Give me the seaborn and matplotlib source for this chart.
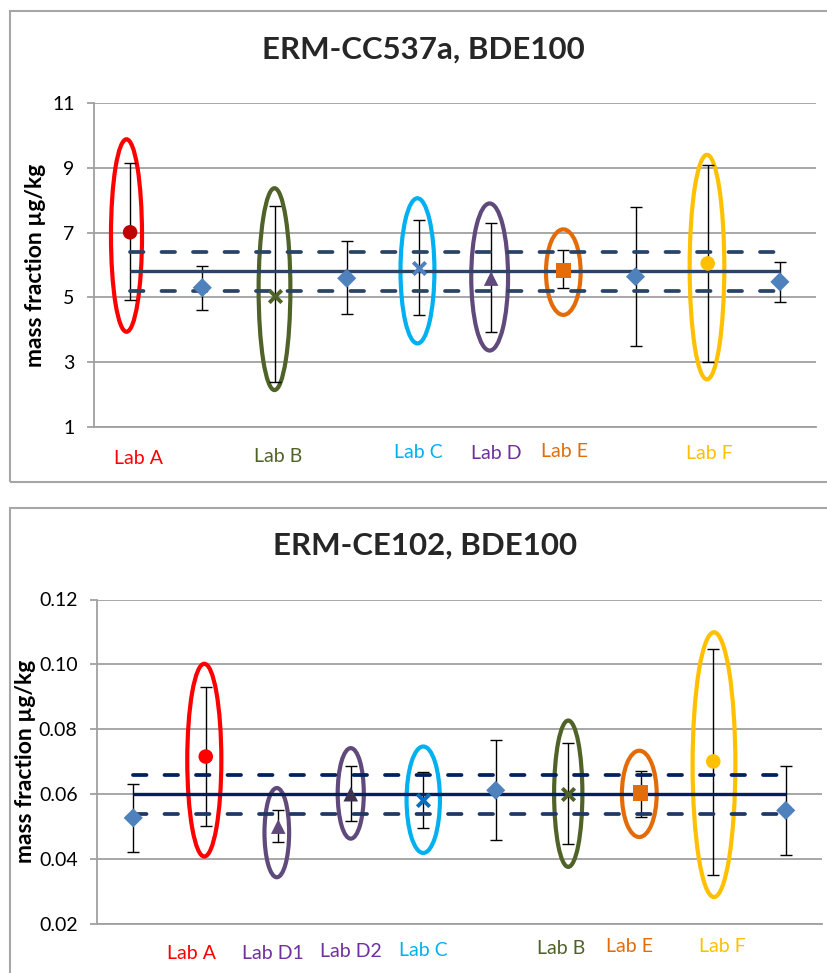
import matplotlib
matplotlib.use("Agg")
import matplotlib.pyplot as plt
from matplotlib.patches import Ellipse, Rectangle
from matplotlib.ticker import FormatStrFormatter
import numpy as np
import pandas as pd
import seaborn as sns

sns.set_theme(style="white")
plt.rcParams['font.family'] = ['Lato', 'DejaVu Sans']

# ---- top chart: ERM-CC537a ----
top_groups = ["Lab A", "ref", "Lab B", "ref", "Lab C", "Lab D", "Lab E", "ref", "Lab F", "ref"]
top_values = [7.01, 5.30, 5.05, 5.59, 5.90, 5.58, 5.82, 5.64, 6.05, 5.48]
top_upper = [9.14, 5.98, 7.82, 6.75, 7.39, 7.29, 6.46, 7.79, 9.09, 6.10]
top_lower = [4.92, 4.61, 2.40, 4.48, 4.45, 3.92, 5.28, 3.50, 3.02, 4.87]
top_ref = [5.8, 5.2, 6.4]          # certified value, lower, upper
top_yticks = [1, 3, 5, 7, 9, 11]

top_ell_labs = ["Lab A", "Lab B", "Lab C", "Lab D", "Lab E", "Lab F"]
top_ell_pos = [-0.05, 2.0, 3.98, 4.98, 6.0, 7.99]
top_ell_low = [3.94, 2.14, 3.58, 3.36, 4.46, 2.47]
top_ell_high = [9.88, 8.37, 8.06, 7.90, 7.10, 9.40]
top_ell_width = [0.43, 0.44, 0.47, 0.51, 0.48, 0.48]
top_lab_x = [0.11, 2.05, 3.99, 5.07, 6.02, 8.02]
top_lab_y = [-0.096, -0.090, -0.080, -0.083, -0.077, -0.083]

# ---- bottom chart: ERM-CE102 ----
bot_groups = ["ref", "Lab A", "Lab D1", "Lab D2", "Lab C", "ref", "Lab B", "Lab E", "Lab F", "ref"]
bot_values = [0.0527, 0.0716, 0.0500, 0.0600, 0.0583, 0.0612, 0.0601, 0.0604, 0.0701, 0.0550]
bot_upper = [0.0632, 0.0930, 0.0552, 0.0686, 0.0668, 0.0766, 0.0758, 0.0672, 0.1048, 0.0688]
bot_lower = [0.0422, 0.0501, 0.0453, 0.0518, 0.0496, 0.0460, 0.0447, 0.0529, 0.0350, 0.0413]
bot_ref = [0.060, 0.054, 0.066]
bot_yticks = [0.02, 0.04, 0.06, 0.08, 0.10, 0.12]

bot_ell_labs = ["Lab A", "Lab D1", "Lab D2", "Lab C", "Lab B", "Lab E", "Lab F"]
bot_ell_pos = [0.98, 1.98, 3.0, 4.0, 6.0, 6.98, 8.01]
bot_ell_low = [0.0408, 0.0344, 0.0463, 0.0419, 0.0376, 0.0468, 0.0283]
bot_ell_high = [0.1002, 0.0619, 0.0742, 0.0747, 0.0827, 0.0734, 0.1099]
bot_ell_width = [0.47, 0.34, 0.36, 0.46, 0.39, 0.48, 0.59]
bot_lab_x = [0.81, 1.93, 3.00, 4.00, 5.90, 6.85, 8.13]
bot_lab_y = [-0.091, -0.091, -0.085, -0.083, -0.076, -0.070, -0.070]

# colours / markers per lab (ring, label, marker)
ring_col = {"Lab A": "#FF0000", "Lab B": "#4F6228", "Lab C": "#00B0F0", "Lab D": "#604A7B",
            "Lab D1": "#604A7B", "Lab D2": "#604A7B", "Lab E": "#E36C09", "Lab F": "#FFC000"}
text_col = {"Lab A": "#FF0000", "Lab B": "#4F6228", "Lab C": "#00B0F0", "Lab D": "#7030A0",
            "Lab D1": "#7030A0", "Lab D2": "#7030A0", "Lab E": "#E36C09", "Lab F": "#FFC000"}
mark_style = {"ref": ("D", "#4F81BD"), "Lab A": ("o", "#FF0000"), "Lab B": ("x", "#4F6228"),
              "Lab C": ("x", "#1F6FC0"), "Lab D": ("^", "#604A7B"), "Lab D1": ("^", "#604A7B"),
              "Lab D2": ("^", "#3F3151"), "Lab E": ("s", "#E46C0A"), "Lab F": ("o", "#FFC000")}


def draw_chart(ax, groups, values, upper, lower, ref, yticks, line_cols,
               ell_labs, ell_pos, ell_low, ell_high, ell_width, lab_x, lab_y, a_col, c_col):
    df = pd.DataFrame({"pos": np.arange(len(groups)), "group": groups,
                       "value": values, "upper": upper, "lower": lower})

    # ellipses around the lab results
    for lab, p, lo, hi, w in zip(ell_labs, ell_pos, ell_low, ell_high, ell_width):
        ax.add_patch(Ellipse((p, (lo + hi) / 2), w, hi - lo, fill=False,
                             edgecolor=ring_col[lab], lw=3, zorder=2))

    ax.errorbar(df["pos"], df["value"],
                yerr=[df["value"] - df["lower"], df["upper"] - df["value"]],
                fmt="none", ecolor="black", elinewidth=1, capsize=4, capthick=1, zorder=3)

    # certified value and uncertainty band
    xs = [df["pos"].min(), df["pos"].max()]
    ax.plot(xs, [ref[0]] * 2, color=line_cols[0], lw=2.4, zorder=4, solid_capstyle="butt")
    ax.plot(xs, [ref[2]] * 2, color=line_cols[1], lw=2.7, ls=(0, (3.6, 4.8)),
            dash_capstyle="round", zorder=4)
    ax.plot(xs, [ref[1]] * 2, color=line_cols[2], lw=2.7, ls=(0, (3.6, 4.8)),
            dash_capstyle="round", zorder=4)

    for g, sub in df.groupby("group"):
        m, c = mark_style[g]
        if g == "Lab A":
            c = a_col
        if g == "Lab C":
            c = c_col
        if m == "x":
            sns.scatterplot(data=sub, x="pos", y="value", marker="x", color=c, s=80,
                            linewidth=2.8, ax=ax, zorder=5)
        else:
            sz = {"D": 95, "o": 110, "^": 110, "s": 120}[m]
            sns.scatterplot(data=sub, x="pos", y="value", marker=m, color=c, s=sz,
                            edgecolor="none", ax=ax, zorder=5)

    for lab, x, y in zip(ell_labs, lab_x, lab_y):
        ax.text(x, y, lab, color=text_col[lab], fontsize=14, ha="center", va="center",
                transform=ax.get_xaxis_transform())

    ax.set_xlim(-0.5, len(groups) - 0.5)
    ax.set_ylim(yticks[0], yticks[-1])
    ax.set_yticks(yticks)
    ax.set_xticks([])
    ax.set_xlabel("")
    ax.set_ylabel("mass fraction µg/kg", fontsize=16.5, fontweight="bold", color="black")
    ax.grid(axis="y", color="#A0A0A0", lw=1.3)
    ax.set_axisbelow(True)
    for s in ["top", "right"]:
        ax.spines[s].set_visible(False)
    for s in ["left", "bottom"]:
        ax.spines[s].set_color("#A0A0A0")
        ax.spines[s].set_linewidth(1.3)
    ax.tick_params(axis="y", left=True, length=5, width=1.3, color="#A0A0A0",
                   labelsize=14, pad=9, labelcolor="black")


fig = plt.figure(figsize=(8.27, 9.73), dpi=100)

# chart frames
fig.add_artist(Rectangle((10 / 827, 1 - 482 / 973), 830 / 827, 471 / 973, transform=fig.transFigure,
                         fill=False, edgecolor="#A6A6A6", lw=1.5))
fig.add_artist(Rectangle((10 / 827, -0.02), 830 / 827, 1 - 508 / 973 + 0.02, transform=fig.transFigure,
                         fill=False, edgecolor="#A6A6A6", lw=1.5))

ax1 = fig.add_axes([94 / 827, 1 - 427 / 973, 722 / 827, 324 / 973])
draw_chart(ax1, top_groups, top_values, top_upper, top_lower, top_ref, top_yticks,
           ["#2A4468", "#2A4468", "#2A4468"],
           top_ell_labs, top_ell_pos, top_ell_low, top_ell_high, top_ell_width,
           top_lab_x, top_lab_y, "#C00000", "#4F81BD")
ax1.yaxis.set_major_formatter(FormatStrFormatter("%d"))
ax1.yaxis.set_label_coords(-0.066, 0.5)

ax2 = fig.add_axes([97 / 827, 1 - 924 / 973, 725 / 827, 324.5 / 973])
draw_chart(ax2, bot_groups, bot_values, bot_upper, bot_lower, bot_ref, bot_yticks,
           ["#002060", "#002060", "#1F3864"],
           bot_ell_labs, bot_ell_pos, bot_ell_low, bot_ell_high, bot_ell_width,
           bot_lab_x, bot_lab_y, "#FF0000", "#0070C0")
ax2.yaxis.set_major_formatter(FormatStrFormatter("%.2f"))
ax2.yaxis.set_label_coords(-0.084, 0.5)

fig.text(423 / 827, 1 - 50 / 973, "ERM-CC537a, BDE100", ha="center", va="center",
         fontsize=22.5, fontweight="bold")
fig.text(425 / 827, 1 - 546 / 973, "ERM-CE102, BDE100", ha="center", va="center",
         fontsize=22.5, fontweight="bold")

fig.savefig("out.png", dpi=100)
